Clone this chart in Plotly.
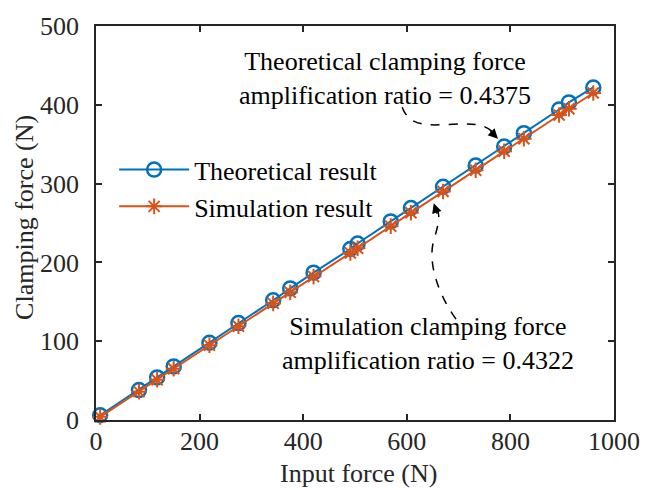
import plotly.graph_objects as go

input_force = [8, 83, 118, 150, 219, 275, 342, 375, 420, 491, 505, 569, 608, 670, 733, 788, 826, 894, 913, 960]
theoretical = [6, 38, 54, 68, 98, 123, 152, 167, 187, 217, 224, 252, 269, 296, 323, 347, 364, 394, 403, 422]
simulation = [4, 36, 51, 65, 95, 119, 148, 162, 182, 212, 218, 246, 263, 290, 317, 341, 357, 387, 395, 415]

x_ticks = [0, 200, 400, 600, 800, 1000]
y_ticks = [0, 100, 200, 300, 400, 500]

x_title = "Input force (N)"
y_title = "Clamping force (N)"

BLUE = "#0072BD"
ORANGE = "#D95319"
INK = "#262626"
FONT = "Liberation Serif"

fig = go.Figure()
fig.add_trace(go.Scatter(
    x=input_force, y=theoretical, mode="lines+markers", name="Theoretical result",
    line=dict(color=BLUE, width=2),
    marker=dict(symbol="circle-open", size=14, color=BLUE, line=dict(width=2.5, color=BLUE)),
    cliponaxis=False,
))
fig.add_trace(go.Scatter(
    x=input_force, y=simulation, mode="lines+markers", name="Simulation result",
    line=dict(color=ORANGE, width=2),
    marker=dict(symbol="asterisk-open", size=13, color=ORANGE, line=dict(width=2, color=ORANGE)),
    cliponaxis=False,
))

# curved dashed arrows
fig.add_shape(type="path", xref="x", yref="y",
              path="M 591,397 C 605,372 640,374 680,375 C 720,376 748,378 768,364",
              line=dict(color="black", width=1.5, dash="dash"))
fig.add_shape(type="path", xref="x", yref="y",
              path="M 695,128 C 660,160 640,200 652,228 C 662,250 666,262 656,270",
              line=dict(color="black", width=1.5, dash="dash"))

fig.add_annotation(x=776, y=357, ax=-9, ay=-9, xref="x", yref="y", text="",
                   showarrow=True, arrowhead=2, arrowsize=1.3, arrowwidth=1.5, arrowcolor="black")
fig.add_annotation(x=652, y=275, ax=4, ay=12, xref="x", yref="y", text="",
                   showarrow=True, arrowhead=2, arrowsize=1.3, arrowwidth=1.5, arrowcolor="black")

fig.add_annotation(x=557, y=433, xref="x", yref="y", showarrow=False,
                   text="Theoretical clamping force<br>amplification ratio = 0.4375",
                   font=dict(family=FONT, size=26, color="black"), align="center")
fig.add_annotation(x=641, y=97, xref="x", yref="y", showarrow=False,
                   text="Simulation clamping force<br>amplification ratio = 0.4322",
                   font=dict(family=FONT, size=26, color="black"), align="center")

# axis titles placed as text close to the tick labels (MATLAB-like spacing)
fig.add_annotation(x=0.5066, y=-0.1361, xref="paper", yref="paper", showarrow=False,
                   text=x_title, xanchor="center", yanchor="middle",
                   font=dict(family=FONT, size=26, color=INK))
fig.add_annotation(x=-0.1378, y=0.5145, xref="paper", yref="paper", showarrow=False,
                   text=y_title, textangle=-90, xanchor="center", yanchor="middle",
                   font=dict(family=FONT, size=26, color=INK))

axis_common = dict(
    showline=True, linecolor=INK, linewidth=1.5, mirror="allticks",
    ticks="inside", ticklen=6, tickwidth=1.5, tickcolor=INK,
    showgrid=False, zeroline=False,
    tickfont=dict(family=FONT, size=26, color=INK),
)

fig.update_layout(
    width=652, height=490,
    margin=dict(l=96, r=29, t=17, b=70),
    paper_bgcolor="white", plot_bgcolor="white",
    font=dict(family=FONT, size=26, color=INK),
    xaxis=dict(range=[0, 1000], tickvals=x_ticks, ticktext=[str(v) for v in x_ticks],
               ticklabelstandoff=-3, **axis_common),
    yaxis=dict(range=[0, 500], tickvals=y_ticks, ticktext=[str(v) for v in y_ticks],
               ticklabelstandoff=10, **axis_common),
    legend=dict(x=0.035, y=0.695, xanchor="left", yanchor="top", bgcolor="rgba(0,0,0,0)",
                font=dict(family=FONT, size=26, color="black"), itemwidth=70,
                tracegroupgap=0),
    showlegend=True,
)

fig.write_html(
    "out.html",
    config={"displayModeBar": False},
    post_script="document.body.style.margin='0';document.documentElement.style.overflow='hidden';",
)
